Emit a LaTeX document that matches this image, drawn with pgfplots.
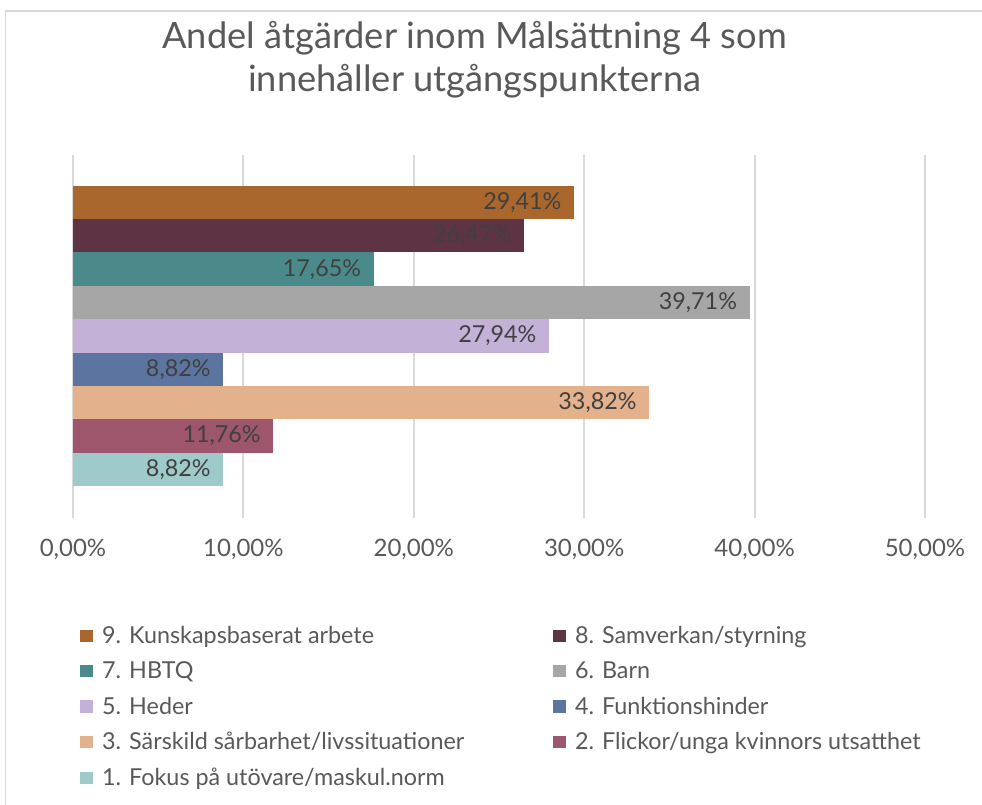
\documentclass[border=0pt]{standalone}
\usepackage{pgfplots}
\pgfplotsset{compat=1.18}
\usepackage{fontspec}
\setmainfont{Lato}
\definecolor{txt}{HTML}{595959}
\definecolor{lbl}{HTML}{404040}
\definecolor{grd}{HTML}{D9D9D9}
\definecolor{c9}{HTML}{A9662D}
\definecolor{c8}{HTML}{5E3344}
\definecolor{c7}{HTML}{4A8A8A}
\definecolor{c6}{HTML}{A6A6A6}
\definecolor{c5}{HTML}{C3B1D8}
\definecolor{c4}{HTML}{5B74A0}
\definecolor{c3}{HTML}{E3B18B}
\definecolor{c2}{HTML}{9D566C}
\definecolor{c1}{HTML}{9ECACA}
\newcommand{\lw}[1]{\makebox[336pt][l]{#1}}
\begin{document}
\begin{tikzpicture}
\useasboundingbox (0,0) rectangle (736.5pt,-603.75pt);
\fill[white] (0,0) rectangle (736.5pt,-603.75pt);
\draw[grd, line width=1pt] (3.9pt,-603.75pt) -- (3.9pt,-8.25pt) -- (736.5pt,-8.25pt);
\node[txt, font=\fontsize{27.2}{32}\selectfont, align=center] at (356pt,-45pt) {Andel åtgärder inom Målsättning 4 som\\innehåller utgångspunkterna};
\begin{axis}[
  at={(54.75pt,-388.5pt)}, anchor=south west,
  scale only axis, width=639pt, height=272.25pt,
  xbar, bar width=1, bar shift=0pt,
  xmin=0, xmax=50, ymin=-0.453, ymax=10.42,
  xtick={0,10,...,50}, ytick=\empty,
  xmajorgrids, grid style={grd, line width=1.6pt},
  axis line style={draw=none}, major tick length=0pt,
  /pgf/number format/assume math mode=true,
  xticklabel={\pgfmathprintnumber[fixed,fixed zerofill,precision=2,use comma]{\tick}\%},
  xticklabel style={font=\fontsize{18}{21}\selectfont, text=txt, yshift=-12pt},
  point meta=x,
  nodes near coords={\pgfmathprintnumber[fixed,fixed zerofill,precision=2,use comma]{\pgfplotspointmeta}\%},
  every node near coord/.append style={anchor=east, xshift=-6pt, font=\fontsize{17.5}{21}\selectfont, text=lbl},
  legend columns=2,
  legend style={at={(axis description cs:0.008,-0.29)}, anchor=north west, draw=none, fill=none,
    font=\fontsize{17.5}{21}\selectfont, text=txt, row sep=8.2pt, inner sep=0pt,
    /tikz/every odd column/.append style={column sep=5pt}},
  legend cell align=left,
  legend image code/.code={\fill[#1] (0pt,-4.7pt) rectangle (9.6pt,4.7pt);},
]
\addplot[fill=c9, draw=none] coordinates {(29.41,9)};
\addplot[fill=c8, draw=none] coordinates {(26.47,8)};
\addplot[fill=c7, draw=none] coordinates {(17.65,7)};
\addplot[fill=c6, draw=none] coordinates {(39.71,6)};
\addplot[fill=c5, draw=none] coordinates {(27.94,5)};
\addplot[fill=c4, draw=none] coordinates {(8.82,4)};
\addplot[fill=c3, draw=none] coordinates {(33.82,3)};
\addplot[fill=c2, draw=none] coordinates {(11.76,2)};
\addplot[fill=c1, draw=none] coordinates {(8.82,1)};
\legend{\lw{9. Kunskapsbaserat arbete},8. Samverkan/styrning,\lw{7. HBTQ},6. Barn,\lw{5. Heder},4. Funktionshinder,\lw{3. Särskild sårbarhet/livssituationer},2. Flickor/unga kvinnors utsatthet,\lw{1. Fokus på utövare/maskul.norm}}
\end{axis}
\end{tikzpicture}
\end{document}
